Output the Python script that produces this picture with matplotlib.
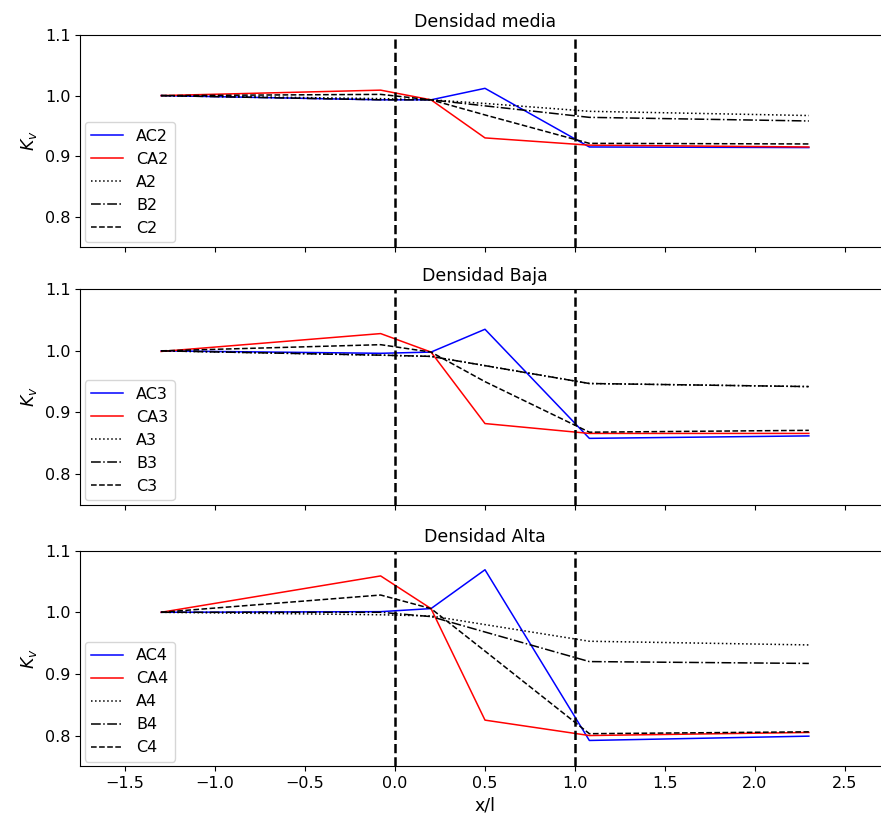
import numpy as np
import matplotlib
matplotlib.use("Agg")
import matplotlib.pyplot as plt

# posiciones x/l
x = [-1.3, -0.08, 0.2, 0.5, 1.08, 2.3]

# Densidad media
AC2 = [1.000, 0.993, 0.993, 1.012, 0.915, 0.914]
CA2 = [1.000, 1.009, 0.993, 0.930, 0.918, 0.915]
A2 = [1.000, 0.995, 0.993, 0.987, 0.974, 0.967]
B2 = [1.000, 0.993, 0.993, 0.983, 0.964, 0.958]
C2 = [1.000, 1.002, 0.993, 0.968, 0.921, 0.920]

# Densidad Baja
AC3 = [1.000, 0.996, 0.998, 1.035, 0.858, 0.862]
CA3 = [0.999, 1.028, 0.998, 0.882, 0.866, 0.866]
A3 = [1.000, 0.993, 0.991, 0.976, 0.947, 0.942]
B3 = [1.000, 0.993, 0.991, 0.976, 0.947, 0.942]
C3 = [1.000, 1.010, 0.998, 0.950, 0.868, 0.871]

# Densidad Alta
AC4 = [1.000, 1.001, 1.006, 1.069, 0.792, 0.799]
CA4 = [1.000, 1.059, 1.006, 0.825, 0.800, 0.805]
A4 = [1.000, 0.996, 0.994, 0.980, 0.953, 0.947]
B4 = [1.000, 1.000, 0.993, 0.968, 0.920, 0.917]
C4 = [1.000, 1.028, 1.006, 0.937, 0.803, 0.806]

titulos = ["Densidad media", "Densidad Baja", "Densidad Alta"]
datos = [
    (["AC2", "CA2", "A2", "B2", "C2"], [AC2, CA2, A2, B2, C2]),
    (["AC3", "CA3", "A3", "B3", "C3"], [AC3, CA3, A3, B3, C3]),
    (["AC4", "CA4", "A4", "B4", "C4"], [AC4, CA4, A4, B4, C4]),
]
estilos = [("blue", "-"), ("red", "-"), ("black", ":"), ("black", "-."), ("black", "--")]

fig = plt.figure(figsize=(8.81, 8.17), dpi=100)
# [left, bottom, width, height]  (el borde derecho queda fuera de la figura)
cajas = [
    [0.091, 0.698, 0.919, 0.259],
    [0.091, 0.382, 0.919, 0.264],
    [0.091, 0.062, 0.919, 0.264],
]

for i in range(3):
    ax = fig.add_axes(cajas[i])
    nombres, series = datos[i]
    for nombre, s, (col, ls) in zip(nombres, series, estilos):
        ax.plot(x, s, color=col, linestyle=ls, linewidth=1.1, label=nombre)
    ax.axvline(0, color="black", linestyle="--", linewidth=1.8)
    ax.axvline(1, color="black", linestyle="--", linewidth=1.8)
    ax.set_xlim(-1.75, 2.75)
    ax.set_ylim(0.75, 1.1)
    ax.set_yticks([0.8, 0.9, 1.0, 1.1])
    ax.set_xticks([-1.5, -1.0, -0.5, 0.0, 0.5, 1.0, 1.5, 2.0, 2.5])
    ax.tick_params(labelsize=11.5)
    ax.set_title(titulos[i], fontsize=12.5)
    ax.set_ylabel("$K_v$", fontsize=12.5)
    ax.legend(loc="lower left", fontsize=11.5, borderaxespad=0.3)
    if i < 2:
        ax.tick_params(labelbottom=False)
    else:
        ax.set_xlabel("x/l", fontsize=12.5)

plt.savefig("out.png", dpi=100)
